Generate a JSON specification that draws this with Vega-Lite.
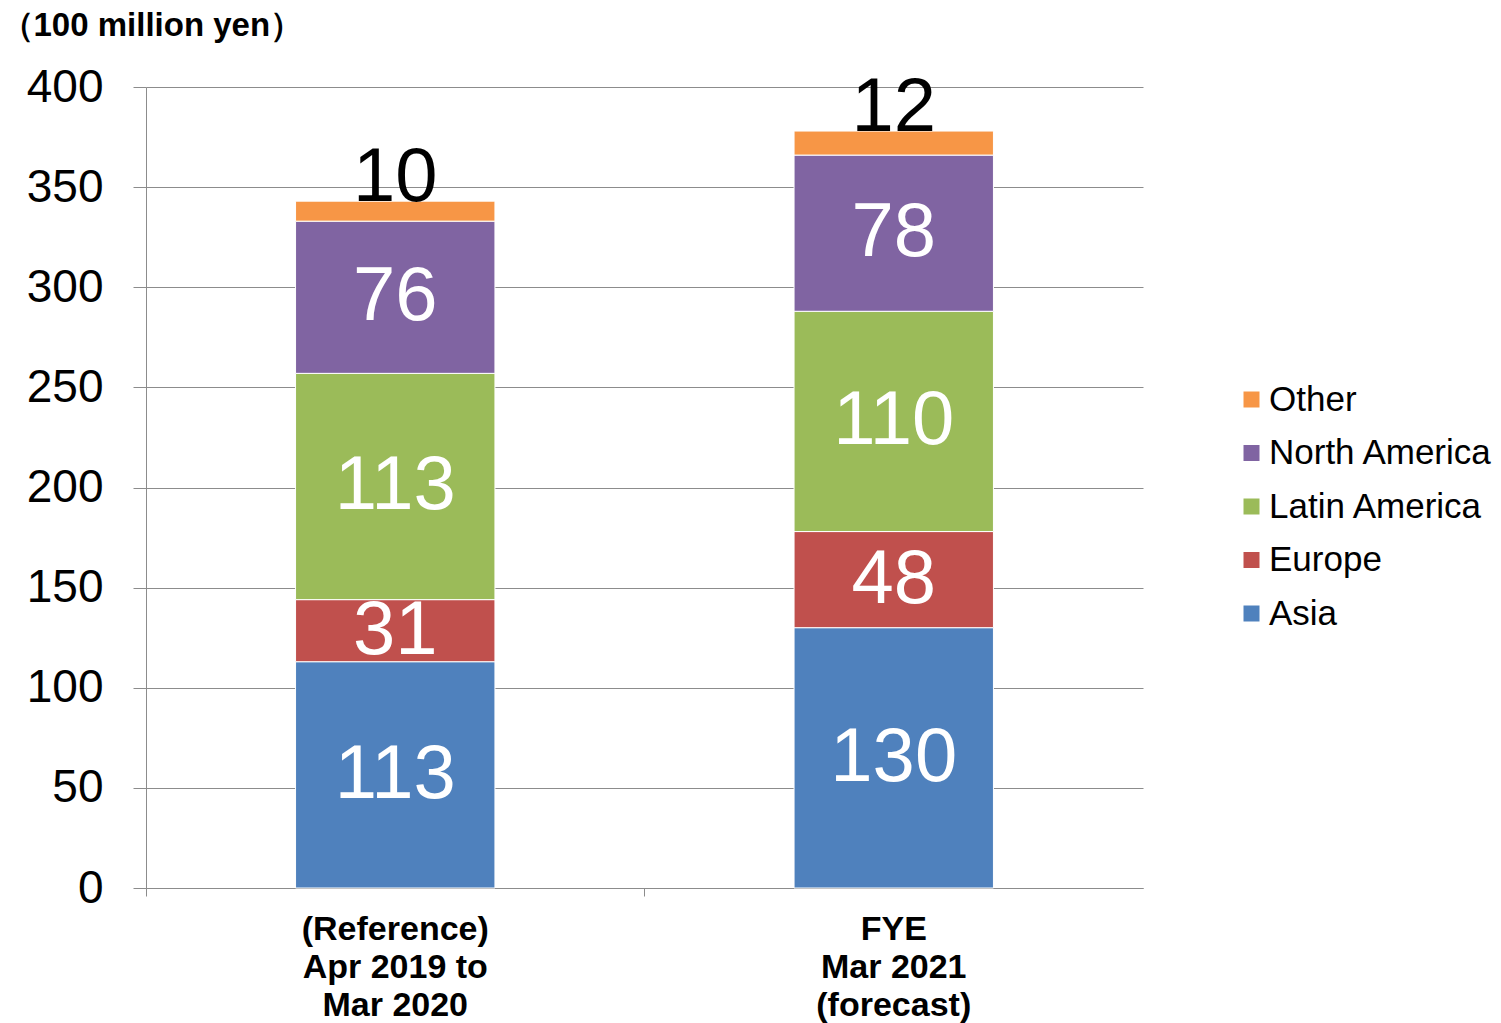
{
  "$schema": "https://vega.github.io/schema/vega-lite/v6.json",
  "width": 997,
  "height": 801,
  "autosize": {"type": "none"},
  "padding": {"left": 146, "top": 87, "right": 358, "bottom": 135},
  "background": "white",
  "config": {"font": "Liberation Sans", "view": {"stroke": null}},
  "data": {
    "values": [
      {"period": "(Reference)|Apr 2019 to|Mar 2020", "region": "Asia", "value": 113},
      {"period": "(Reference)|Apr 2019 to|Mar 2020", "region": "Europe", "value": 31},
      {"period": "(Reference)|Apr 2019 to|Mar 2020", "region": "Latin America", "value": 113},
      {"period": "(Reference)|Apr 2019 to|Mar 2020", "region": "North America", "value": 76},
      {"period": "(Reference)|Apr 2019 to|Mar 2020", "region": "Other", "value": 10},
      {"period": "FYE|Mar 2021|(forecast)", "region": "Asia", "value": 130},
      {"period": "FYE|Mar 2021|(forecast)", "region": "Europe", "value": 48},
      {"period": "FYE|Mar 2021|(forecast)", "region": "Latin America", "value": 110},
      {"period": "FYE|Mar 2021|(forecast)", "region": "North America", "value": 78},
      {"period": "FYE|Mar 2021|(forecast)", "region": "Other", "value": 12}
    ]
  },
  "encoding": {
    "x": {
      "field": "period",
      "type": "nominal",
      "sort": null,
      "scale": {"paddingInner": 0.6, "paddingOuter": 0.3},
      "axis": {
        "title": null,
        "labelAngle": 0,
        "labelFontSize": 34,
        "labelFontWeight": "bold",
        "labelColor": "black",
        "labelLineHeight": 38,
        "labelExpr": "split(datum.value, '|')",
        "labelBaseline": "top",
        "labelPadding": 16,
        "labelLimit": 0,
        "bandPosition": -0.75,
        "labelOffset": 0,
        "tickSize": 8,
        "tickColor": "#8c8c8c",
        "domainColor": "#8c8c8c",
        "grid": false
      }
    },
    "order": {"field": "region", "type": "nominal", "sort": "ascending"}
  },
  "layer": [
    {
      "mark": {"type": "bar", "stroke": "white", "strokeWidth": 1},
      "encoding": {
        "y": {
          "field": "value",
          "type": "quantitative",
          "stack": "zero",
          "scale": {"domain": [0, 400]},
          "axis": {
            "title": "（100 million yen）",
            "titleAngle": 0,
            "titleX": -146,
            "titleY": -52,
            "titleAlign": "left",
            "titleBaseline": "alphabetic",
            "titleFontSize": 33,
            "titleFontWeight": "bold",
            "titleColor": "black",
            "values": [0, 50, 100, 150, 200, 250, 300, 350, 400],
            "labelFontSize": 46,
            "labelColor": "black",
            "labelPadding": 30,
            "labelBaseline": "middle",
            "tickSize": 13,
            "tickColor": "#8c8c8c",
            "domainColor": "#8c8c8c",
            "grid": true,
            "gridColor": "#8c8c8c"
          }
        },
        "color": {
          "field": "region",
          "type": "nominal",
          "scale": {
            "domain": ["Other", "North America", "Latin America", "Europe", "Asia"],
            "range": ["#F79646", "#8064A2", "#9BBB59", "#C0504D", "#4F81BD"]
          },
          "legend": {
            "title": null,
            "orient": "none",
            "legendX": 1088,
            "legendY": 295,
            "symbolType": "square",
            "symbolSize": 256,
            "symbolStrokeWidth": 0,
            "labelFontSize": 35,
            "labelColor": "black",
            "labelOffset": 0,
            "labelLimit": 0,
            "rowPadding": 17.5
          }
        }
      }
    },
    {
      "mark": {"type": "text", "fontSize": 76, "fill": "white", "baseline": "middle", "align": "center"},
      "encoding": {
        "y": {"field": "value", "type": "quantitative", "stack": "zero", "bandPosition": 0.5},
        "detail": {"field": "region", "type": "nominal"},
        "text": {"condition": {"test": "datum.region !== 'Other'", "field": "value", "type": "quantitative"}, "value": ""}
      }
    },
    {
      "mark": {"type": "text", "fontSize": 76, "fill": "black", "baseline": "alphabetic", "align": "center"},
      "encoding": {
        "y": {"field": "value", "type": "quantitative", "stack": "zero"},
        "detail": {"field": "region", "type": "nominal"},
        "text": {"condition": {"test": "datum.region === 'Other'", "field": "value", "type": "quantitative"}, "value": ""}
      }
    }
  ]
}
